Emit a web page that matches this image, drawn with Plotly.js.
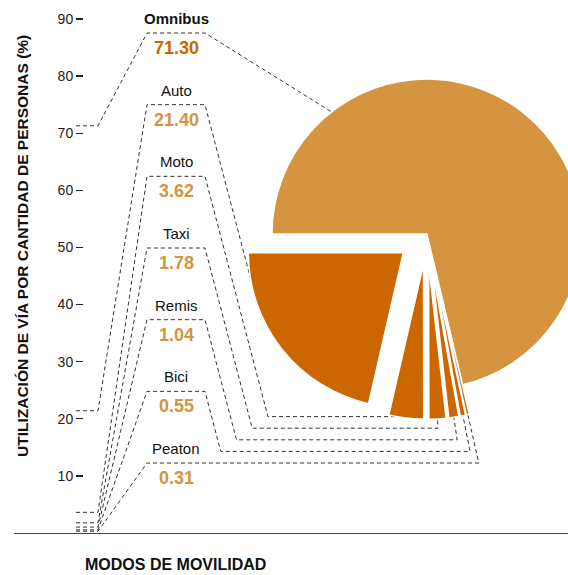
<!DOCTYPE html>
<html><head><meta charset="utf-8">
<script src="https://cdn.plot.ly/plotly-3.0.1.min.js"></script>
<style>html,body{margin:0;padding:0;overflow:hidden;background:#fff;width:568px;height:575px}</style>
</head><body><div id="chart" style="width:620px;height:575px"></div>
<script>
// ---------------- data ----------------
const categories = ['Omnibus', 'Auto', 'Moto', 'Taxi', 'Remis', 'Bici', 'Peaton'];
const shares = [71.30, 21.40, 3.62, 1.78, 1.04, 0.55, 0.31];
const valueLabels = ['71.30', '21.40', '3.62', '1.78', '1.04', '0.55', '0.31'];
const yTickValues = [10, 20, 30, 40, 50, 60, 70, 80, 90];
const yTitle = 'UTILIZACIÓN DE VÍA POR CANTIDAD DE PERSONAS (%)';
const xTitle = 'MODOS DE MOVILIDAD';
// order of slices clockwise from 9 o'clock (indices into categories)
const pieOrder = [0, 6, 5, 4, 3, 2, 1];

// ---------------- layout constants ----------------
const W = 620, H = 575, M = {l: 14, r: 0, t: 19, b: 42};
const PW = W - M.l - M.r, PH = H - M.t - M.b;
const Y_MAX = 90;
const dataY = py => (M.t + PH - py) / PH * Y_MAX;
const pxY = v => M.t + PH * (1 - v / Y_MAX);
const paperX = px => (px - M.l) / PW;
const paperY = py => (M.t + PH - py) / PH;

const FONT = 'Liberation Sans, Arial, sans-serif';
const LIGHT = '#D49440', DARK = '#CC6600';
const PULL = 0.195;
const pieDomain = {x: [0.3757, 0.9871], y: [0.2214, 0.942]};
const ROT = -90;

// replicate plotly pie geometry (pixels)
const boxW = PW * (pieDomain.x[1] - pieDomain.x[0]);
const boxH = PH * (pieDomain.y[1] - pieDomain.y[0]);
const R = Math.min(boxW, boxH) / 2 / (1 + PULL);
const CX = M.l + PW * (pieDomain.x[0] + pieDomain.x[1]) / 2;
const CY = M.t + PH * (1 - pieDomain.y[0]) - boxH / 2;
const dir = th => [Math.sin(th), -Math.cos(th)];

const total = shares.reduce((a, b) => a + b, 0);
const sliceStart = {}, sliceEnd = {};
let ang = ROT * Math.PI / 180;
pieOrder.forEach(i => {
  sliceStart[i] = ang;
  ang += 2 * Math.PI * shares[i] / total;
  sliceEnd[i] = ang;
});
const pulls = categories.map((c, i) => i === 0 ? 0 : PULL);

// connector geometry
const AX_L = 76, AX_R = 98, BOX_L = 147, BOX_R = 205, SLOPE = 0.262;
const TOP0 = 33, TOP_STEP = 71.67, LOW_BASE = 463, LOW_STEP = 11.6;
const LABEL_X = 176;

const traces = [];
const annotations = [];

categories.forEach((name, i) => {
  const top = TOP0 + i * TOP_STEP;
  const pv = pxY(shares[i]);
  const pts = [[AX_L, pv], [AX_R, pv], [BOX_L, top], [BOX_R, top]];
  const mid = (sliceStart[i] + sliceEnd[i]) / 2;
  const d = dir(mid);
  const Dx = CX + pulls[i] * R * d[0], Dy = CY + pulls[i] * R * d[1];
  if (i === 0) {
    const t = -38 * Math.PI / 180;
    const e = dir(t);
    pts.push([Dx + R * e[0], Dy + R * e[1]]);
  } else if (i === 1) {
    const n = Math.hypot(SLOPE, 1), u = [SLOPE / n, 1 / n];
    const px = BOX_R - Dx, py = top - Dy;
    const b = px * u[0] + py * u[1];
    const c = px * px + py * py - R * R;
    const disc = b * b - c;
    const s = disc >= 0 ? (-b - Math.sqrt(disc)) : -b;
    pts.push([BOX_R + s * u[0], top + s * u[1]]);
  } else {
    const yk = LOW_BASE - (6 - i) * LOW_STEP;
    const mx = Dx + R * d[0], my = Dy + R * d[1];
    const t = Math.max(0, (yk - my) / d[1]);
    const ex = mx + t * d[0];
    pts.push([BOX_R + SLOPE * (yk - top), yk]);
    pts.push([ex, yk]);
    pts.push([mx, my]);
  }
  traces.push({
    type: 'scatter', mode: 'lines', xaxis: 'x', yaxis: 'y',
    x: pts.map(p => p[0]), y: pts.map(p => dataY(p[1])),
    line: {color: '#333', width: 1, dash: '4px,3px'},
    hoverinfo: 'skip', showlegend: false
  });
  annotations.push({
    xref: 'paper', yref: 'paper', x: paperX(LABEL_X), y: paperY(top - 14.5),
    text: i === 0 ? '<b>' + name + '</b>' : name,
    showarrow: false, xanchor: 'center', yanchor: 'middle',
    font: {family: FONT, size: 15, color: '#111'}
  });
  annotations.push({
    xref: 'paper', yref: 'paper', x: paperX(LABEL_X), y: paperY(top + 15),
    text: '<b>' + valueLabels[i] + '</b>',
    showarrow: false, xanchor: 'center', yanchor: 'middle',
    font: {family: FONT, size: 18, color: i === 0 ? DARK : LIGHT}
  });
});

traces.push({
  type: 'pie',
  labels: pieOrder.map(i => categories[i]),
  values: pieOrder.map(i => shares[i]),
  pull: pieOrder.map(i => pulls[i]),
  marker: {colors: pieOrder.map(i => i === 0 ? LIGHT : DARK), line: {color: '#fff', width: 1.5}},
  sort: false, direction: 'clockwise', rotation: ROT,
  textinfo: 'none', hoverinfo: 'label+value', showlegend: false,
  domain: pieDomain
});

annotations.push({
  xref: 'paper', yref: 'paper', x: paperX(22), y: paperY(246), text: '<b>' + yTitle + '</b>', textangle: -90,
  showarrow: false, xanchor: 'center', yanchor: 'middle',
  font: {family: FONT, size: 15.5, color: '#111'}
});
annotations.push({
  xref: 'paper', yref: 'paper', x: paperX(83), y: paperY(564), text: '<b>' + xTitle + '</b>',
  showarrow: false, xanchor: 'left', yanchor: 'middle',
  font: {family: FONT, size: 16, color: '#111'}
});

const layout = {
  width: W, height: H, margin: M,
  paper_bgcolor: '#fff', plot_bgcolor: 'rgba(0,0,0,0)',
  showlegend: false,
  xaxis: {range: [M.l, W], showline: true, linecolor: '#444', linewidth: 1.3,
          ticks: '', showticklabels: false, showgrid: false, zeroline: false, fixedrange: true},
  yaxis: {range: [0, Y_MAX], anchor: 'free', position: (83 - M.l) / PW,
          tickvals: yTickValues, ticks: 'outside', ticklen: 7, tickwidth: 1.3, tickcolor: '#222',
          tickfont: {family: FONT, size: 14, color: '#222'},
          showline: false, showgrid: false, zeroline: false, fixedrange: true},
  annotations: annotations
};

Plotly.newPlot('chart', traces, layout, {displayModeBar: false, staticPlot: true});
</script>
</body></html>
